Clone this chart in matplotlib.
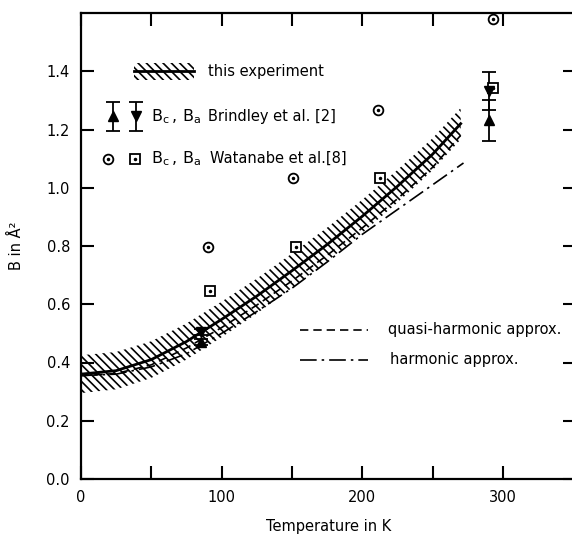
import numpy as np
import matplotlib
matplotlib.use("Agg")
import matplotlib.pyplot as plt

# ---------------- data ----------------
T_curve = [0, 25, 50, 75, 100, 125, 150, 175, 200, 225, 250, 270]
B_exp = [0.36, 0.372, 0.41, 0.472, 0.548, 0.628, 0.715, 0.805, 0.902, 1.005, 1.115, 1.22]
B_exp_err = [0.065, 0.064, 0.063, 0.062, 0.061, 0.060, 0.059, 0.058, 0.057, 0.056, 0.055, 0.054]
B_quasi = [0.355, 0.362, 0.392, 0.45, 0.52, 0.597, 0.68, 0.768, 0.862, 0.962, 1.07, 1.18]
T_harm = [0, 25, 50, 75, 100, 125, 150, 175, 200, 225, 250, 272]
B_harm = [0.355, 0.36, 0.385, 0.43, 0.50, 0.575, 0.655, 0.745, 0.84, 0.925, 1.01, 1.085]

# Brindley et al. [2]
T_brind = [85, 290]
Bc_brind = [0.47, 1.232]
Bc_brind_err = [0.01, 0.07]
Ba_brind = [0.505, 1.333]
Ba_brind_err = [0.01, 0.065]

# Watanabe et al. [8]
T_wat_c = [90, 151, 211, 293]
Bc_wat = [0.796, 1.033, 1.266, 1.58]
T_wat_a = [92, 153, 212.5, 293]
Ba_wat = [0.645, 0.796, 1.033, 1.341]

x_ticks = [0, 50, 100, 150, 200, 250, 300]
x_labels = ["0", "", "100", "", "200", "", "300"]
y_ticks = [0.0, 0.2, 0.4, 0.6, 0.8, 1.0, 1.2, 1.4]
y_labels = ["0.0", "0.2", "0.4", "0.6", "0.8", "1.0", "1.2", "1.4"]

plt.rcParams['font.family'] = ['DejaVu Sans']
plt.rcParams['hatch.linewidth'] = 1.2

fig = plt.figure(figsize=(5.72, 5.34), dpi=100)
ax = fig.add_axes([81/572, 55/534, 495/572, 466/534])

ax.set_xlim(0, 352)
ax.set_ylim(0, 1.6)

Tc = np.array(T_curve)
Be = np.array(B_exp)
Ee = np.array(B_exp_err)
ax.fill_between(Tc, Be - Ee, Be + Ee, facecolor='none', edgecolor='black',
                hatch='\\\\\\\\', linewidth=0)
ax.plot(T_curve, B_exp, color='black', lw=2.0)
ax.plot(T_curve, B_quasi, color='black', lw=1.2, ls=(0, (5, 3)))
ax.plot(T_harm, B_harm, color='black', lw=1.2, ls=(0, (10, 3, 1.5, 3)))

# Brindley
ax.errorbar(T_brind, Bc_brind, yerr=Bc_brind_err, fmt='^', color='black',
            ms=7, capsize=5, elinewidth=1.3, capthick=1.3)
ax.errorbar(T_brind, Ba_brind, yerr=Ba_brind_err, fmt='v', color='black',
            ms=7, capsize=5, elinewidth=1.3, capthick=1.3)

# Watanabe
ax.plot(T_wat_c, Bc_wat, 'o', mfc='white', mec='black', mew=1.3, ms=7, clip_on=False)
ax.plot(T_wat_c, Bc_wat, '.', color='black', ms=3, clip_on=False)
ax.plot(T_wat_a, Ba_wat, 's', mfc='white', mec='black', mew=1.3, ms=7)
ax.plot(T_wat_a, Ba_wat, '.', color='black', ms=3)

# ---------------- legend (manual) ----------------
fs = 10.5
lx = np.array([38, 80])
ax.fill_between(lx, [1.37, 1.37], [1.43, 1.43], facecolor='none', edgecolor='black',
                hatch='\\\\\\\\', linewidth=0)
ax.plot(lx, [1.40, 1.40], color='black', lw=2.0)
ax.text(90, 1.40, "this experiment", fontsize=fs, va='center')

ax.errorbar([23], [1.245], yerr=[0.05], fmt='^', color='black', ms=7, capsize=5,
            elinewidth=1.3, capthick=1.3)
ax.errorbar([39], [1.245], yerr=[0.05], fmt='v', color='black', ms=7, capsize=5,
            elinewidth=1.3, capthick=1.3)
ax.text(50, 1.245, r"$\mathregular{B_c\,,\,B_a}$", fontsize=11.5, va='center')
ax.text(90, 1.245, "Brindley et al. [2]", fontsize=fs, va='center')

ax.plot([19.5], [1.10], 'o', mfc='white', mec='black', mew=1.3, ms=7)
ax.plot([19.5], [1.10], '.', color='black', ms=3)
ax.plot([38.5], [1.10], 's', mfc='white', mec='black', mew=1.3, ms=7)
ax.plot([38.5], [1.10], '.', color='black', ms=3)
ax.text(50, 1.10, r"$\mathregular{B_c\,,\,B_a}$", fontsize=11.5, va='center')
ax.text(92, 1.10, "Watanabe et al.[8]", fontsize=fs, va='center')

ax.plot([156, 204], [0.512, 0.512], color='black', lw=1.2, ls=(0, (5, 3)))
ax.text(218, 0.512, "quasi-harmonic approx.", fontsize=fs, va='center')
ax.plot([156, 204], [0.41, 0.41], color='black', lw=1.2, ls=(0, (10, 3, 1.5, 3)))
ax.text(220, 0.41, "harmonic approx.", fontsize=fs, va='center')

# ---------------- axes styling ----------------
ax.set_xticks(x_ticks)
ax.set_xticklabels(x_labels)
ax.set_yticks(y_ticks)
ax.set_yticklabels(y_labels)
ax.tick_params(direction='in', length=9.5, width=1.5, labelsize=fs,
               top=True, right=True, pad=8)
for s in ax.spines.values():
    s.set_linewidth(1.6)

ax.set_xlabel("Temperature in K", fontsize=fs, labelpad=10)
ax.set_ylabel("B in Å²", fontsize=fs, labelpad=16)

fig.savefig("out.png", dpi=100)
